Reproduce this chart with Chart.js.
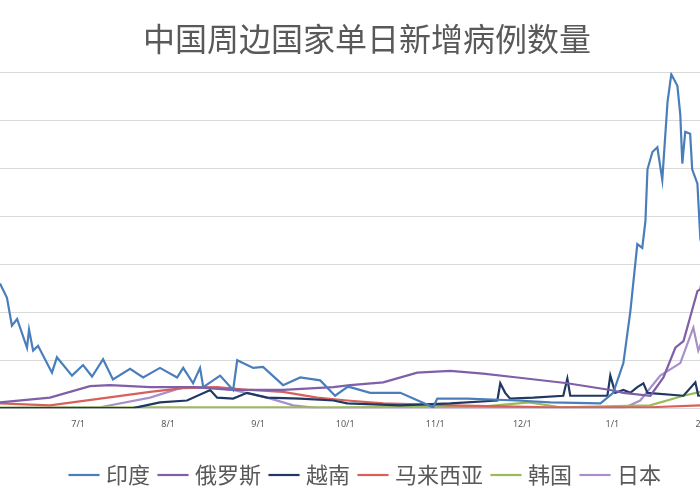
<!DOCTYPE html>
<html><head><meta charset="utf-8">
<script src="https://cdn.jsdelivr.net/npm/chart.js@4"></script>
<style>html,body{margin:0;padding:0;width:700px;height:500px;overflow:hidden;background:#fff}
#wrap{position:absolute;left:-9px;top:0;width:752px;height:500px}</style>
</head><body><div id="wrap"><canvas id="c"></canvas></div>
<script>
// x = days since 6/1, y = thousand cases
const monthTicks = [30,61,92,122,153,183,214,245];
const monthLabels = ['7/1','8/1','9/1','10/1','11/1','12/1','1/1','2/1'];
const seriesNames = ['印度','俄罗斯','越南','马来西亚','韩国','日本'];
const indiaDays = [3.1,5.5,7.2,9,12.4,13.1,14.5,16.2,21,22.7,27.9,31.7,34.8,38.6,42,47.9,52.4,58.2,64.1,66.2,69.6,72,73.1,78.9,83.4,84.8,90.3,93.7,100.6,106.5,113.4,118.5,122.7,123.7,130.6,141,152.3,153.7,164,181.2,192.6,209.9,214.3,217.8,220.2,222.6,224.3,225.4,226.1,227.8,229.5,231.2,233,234.3,236.4,237.4,238.1,239.1,240.8,241.5,243.3,244.3,248,252,258];
const indiaVals = [130,115,86,93,63,82,60,65,37,53,34,45,33,51,30,41,32,42,32,42,26,42,22,34,19,50,42,43,24,32,29,13,22,22,16,16,1,10,10,8,6,5,16,47,101,171,167,195,249,267,272,238,319,348,336,306,255,288,286,249,234,177,120,70,40];
const russiaDays = [3.1,20.3,34.1,41,54.8,69.6,83.4,100.6,117.9,123.7,135.1,146.8,158.2,169.5,181.3,198.5,213.3,217.8,227.1,231.6,235.7,238.5,243.3,244.3,247.8,252,258];
const russiaVals = [6,11,23,24,22,22,19,19,22,24,27,37,39,36,32,26,19,16,13,32,63,70,122,124,184,190,170];
const vietnamDays = [0,48.9,58.2,67.5,75.5,77.9,83.4,88.2,95.1,106.5,117.9,122.7,140.9,158.2,174.4,175.4,177.1,178.8,186.8,197.1,198.5,199.5,212.3,213.3,215,217.8,220.2,222.6,224.7,226.1,238.5,242.6,243.6,250,258];
const vietnamVals = [0,0,6,8,19,11,10,16,11,10,8,5,3,5,8,26,16,10,11,13,31,13,13,34,16,19,16,22,26,16,13,27,13,14,15];
const malaysiaDays = [3.1,20.3,37.6,54.8,66.2,77.9,89.2,100.6,112.3,122.7,135.1,158.2,192.6,227.1,244.3,258];
const malaysiaVals = [5,3,10,17,21,22,19,17,11,8,5,3,1,1,3,5];
const koreaDays = [3.1,60,120,170,185.4,196,227,238.5,244.3,258];
const koreaVals = [0.5,1,1,2,6,1,3,13,17,40];
const japanDays = [3.1,37.6,54.8,66.2,74.4,83.4,95.1,104.1,112.3,217.8,223.6,230.5,237.4,241.9,243.6,248,252,258];
const japanVals = [0,1,11,22,22,19,11,3,0,0,8,34,47,84,60,95,100,85];

const colors = ['#4a7ebb','#7f5fa8','#1f3864','#d9605a','#9bbb59','#a88fcc'];
const daysArr = [indiaDays,russiaDays,vietnamDays,malaysiaDays,koreaDays,japanDays];
const valsArr = [indiaVals,russiaVals,vietnamVals,malaysiaVals,koreaVals,japanVals];
const datasets = seriesNames.map((n,i)=>({
  label:n, borderColor:colors[i], backgroundColor:colors[i], borderWidth:2.2,
  pointRadius:0, tension:0, data:daysArr[i].map((d,j)=>({x:d,y:valsArr[i][j]}))
}));
new Chart(document.getElementById('c'),{
  type:'line', data:{datasets},
  options:{responsive:true,maintainAspectRatio:false,animation:false,
    layout:{padding:{left:0,right:0,top:0,bottom:4}},
    plugins:{
      title:{display:true,text:'中国周边国家单日新增病例数量',color:'#595959',
        font:{family:'Noto Sans CJK SC',size:32,weight:'normal'},padding:{top:20,bottom:14}},
      legend:{position:'bottom',labels:{usePointStyle:true,pointStyle:'line',boxWidth:26,
        color:'#595959',font:{family:'Noto Sans CJK SC',size:22},padding:12}},
      tooltip:{enabled:false}},
    scales:{
      x:{type:'linear',min:0,max:259,
        afterBuildTicks:(s)=>{s.ticks=monthTicks.map(v=>({value:v}));},
        afterFit:(s)=>{s.height+=19;},
        ticks:{autoSkip:false,maxRotation:0,color:'#595959',font:{family:'Noto Sans',size:9},
          callback:(v)=>monthLabels[monthTicks.indexOf(v)]},
        grid:{display:false},border:{color:'#d9d9d9'}},
      y:{min:0,max:350,ticks:{display:false,stepSize:50},
        grid:{color:'#d9d9d9',drawTicks:false},border:{display:false}}
    }}
});
</script></body></html>
